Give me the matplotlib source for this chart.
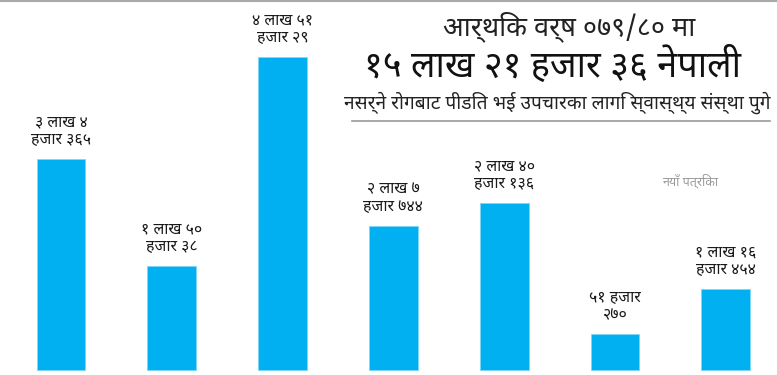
import matplotlib
matplotlib.use("Agg")
import matplotlib.pyplot as plt
import numpy as np

# patients per bar, and the two-line labels written over each bar
VALUES = [304365, 150038, 451029, 207744, 240136, 51270, 116454]
LABELS = [
    "३ लाख ४\nहजार ३६५",
    "१ लाख ५०\nहजार ३८",
    "४ लाख ५१\nहजार २९",
    "२ लाख ७\nहजार ७४४",
    "२ लाख ४०\nहजार १३६",
    "५१ हजार\n२७०",
    "१ लाख १६\nहजार ४५४",
]
TITLE_1 = "आर्थिक वर्ष ०७९/८० मा"
TITLE_2 = "१५ लाख २१ हजार ३६ नेपाली"
TITLE_3 = "नसर्ने रोगबाट पीडित भई उपचारका लागि स्वास्थ्य संस्था पुगे"
SOURCE = "नयाँ पत्रिका"

COLOR_BAR = "#00b0f0"
FONT = ["Noto Sans Devanagari", "DejaVu Sans"]

plt.rcParams["font.family"] = FONT

fig = plt.figure(figsize=(7.77, 3.75), dpi=100)
ax = fig.add_axes([0, 0, 1, 1])

x = np.arange(len(VALUES))
ax.bar(x, VALUES, width=0.44, color=COLOR_BAR, edgecolor="#7fd6f7",
       linewidth=0.6, zorder=2)

for xi, v, lab in zip(x, VALUES, LABELS):
    ax.annotate(lab, (xi, v), xytext=(0, 8), textcoords="offset points",
                ha="center", va="bottom", fontsize=11.5, color="#1a1a1a",
                linespacing=1.15)

ax.set_xlim(-0.55, -0.55 + 777 / 110.8)
ax.set_ylim(-7200, 533200)
ax.axis("off")

# heading block, upper right
fig.text(569 / 777, 1 - 27 / 375, TITLE_1, ha="center", va="center",
         fontsize=19.5, color="#222")
fig.text(552 / 777, 1 - 67 / 375, TITLE_2, ha="center", va="center",
         fontsize=26, fontweight="bold", color="#111")
fig.text(557 / 777, 1 - 103 / 375, TITLE_3, ha="center", va="center",
         fontsize=13.8, color="#222")
fig.add_artist(plt.Line2D([352 / 777, 770 / 777], [1 - 121 / 375] * 2,
                          color="#9a9a9a", linewidth=1.2))
fig.add_artist(plt.Line2D([0, 1], [1 - 1 / 375] * 2,
                          color="#a8a8a8", linewidth=1.5))
fig.text(690 / 777, 1 - 181 / 375, SOURCE, ha="center", va="center",
         fontsize=9, fontweight="bold", color="#9a9a9a")

fig.savefig("out.png", dpi=100)
